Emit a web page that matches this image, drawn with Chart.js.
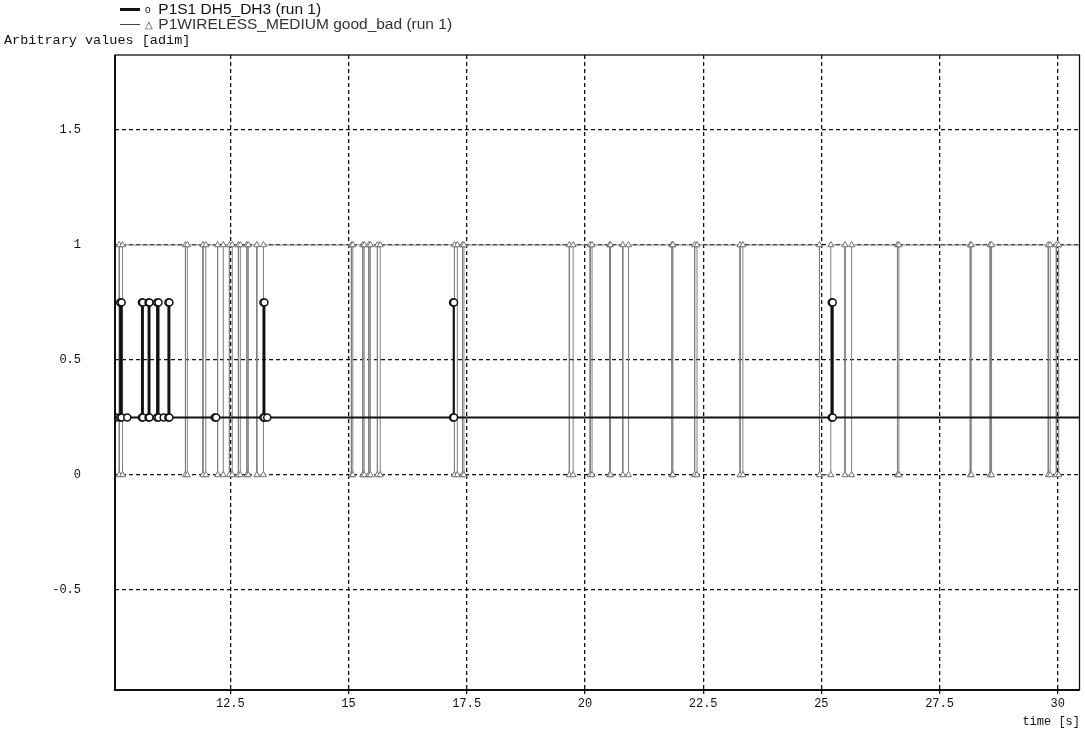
<!DOCTYPE html>
<html>
<head>
<meta charset="utf-8">
<script src="https://cdn.jsdelivr.net/npm/chart.js@4.4.1/dist/chart.umd.min.js"></script>
<style>
    body { margin: 0; background: #fff; }
    #wrap { position: relative; width: 1085px; height: 733px; }
    #chart { position: absolute; left: 0; top: 0; }
    .legend { position: absolute; left: 120px; font-family: "Liberation Sans", Arial, sans-serif; font-size: 15.5px; color: #111; line-height: 14px; white-space: nowrap; }
    .legend .bar { display: inline-block; width: 20px; vertical-align: middle; margin-right: 5px; }
    .legend .mk { display: inline-block; width: 9px; font-size: 10px; vertical-align: middle; }
    .mono { position: absolute; font-family: "Liberation Mono", "DejaVu Sans Mono", monospace; font-size: 13.5px; color: #111; white-space: nowrap; }
</style>
</head>
<body>
<div id="wrap">
    <canvas id="chart" width="1085" height="733"></canvas>
    <div class="legend" style="top:2px"><span class="bar" style="border-top:3px solid #111"></span><span class="mk">o</span> P1S1 DH5_DH3 (run 1)</div>
    <div class="legend" style="top:17px; color:#333"><span class="bar" style="border-top:1px solid #444"></span><span class="mk">&#9651;</span> P1WIRELESS_MEDIUM good_bad (run 1)</div>
    <div class="mono" style="left:4px; top:33px">Arbitrary values [adim]</div>
    <div class="mono" style="right:5px; top:715px; font-size:12px">time [s]</div>
</div>
<script>
// tick labels
const xTicks = [12.5, 15, 17.5, 20, 22.5, 25, 27.5, 30];
const yTicks = [-0.5, 0, 0.5, 1, 1.5];

// P1S1 DH5_DH3: sits at 0.25, short jumps to 0.75
const dh5Base = [10.0, 10.08, 10.32, 11.09, 12.17, 12.2, 13.28, 30.6];
const dh5Up = [10.17, 10.63, 10.77, 10.95, 11.19, 13.2, 17.21, 25.22];
const dh5Down = [10.2, 10.65, 10.79, 10.98, 11.21, 13.22, 17.23, 25.24];

// P1WIRELESS_MEDIUM good_bad: sits at 1, short drops to 0
const wirelessStart = 10.0;
const wirelessEnd = 30.6;
const wirelessDown = [10.15, 11.55, 11.92, 12.23, 12.48, 12.67, 12.85, 13.06, 15.06, 15.3, 15.43, 15.61, 17.24, 17.41,
    19.67, 20.11, 20.52, 20.8, 21.84, 22.32, 23.28, 24.96, 25.5, 26.61, 28.15, 28.57, 29.8, 29.97];
const wirelessUp = [10.22, 11.59, 11.98, 12.35, 12.54, 12.71, 12.88, 13.2, 15.09, 15.33, 15.46, 15.67, 17.3, 17.44,
    19.75, 20.15, 20.54, 20.92, 21.86, 22.37, 23.34, 25.2, 25.64, 26.64, 28.17, 28.6, 29.84, 30.02];

// build step points in time order
function pulses(base, lo, hi, starts, ends) {
    const groups = base.map(t => ({ t: t, pts: [{ x: t, y: lo }] }));
    starts.forEach((t, i) => {
        groups.push({ t: t, pts: [{ x: t, y: lo }, { x: t, y: hi }, { x: ends[i], y: hi }, { x: ends[i], y: lo }] });
    });
    groups.sort((a, b) => a.t - b.t);
    return groups.flatMap(g => g.pts);
}

const dh5Points = pulses(dh5Base, 0.25, 0.75, dh5Up, dh5Down);
const wirelessPoints = pulses([wirelessStart, wirelessEnd], 1, 0, wirelessDown, wirelessUp);

// frame around the plot area
const frame = {
    id: 'frame',
    afterDraw(chart) {
        const { ctx, chartArea: a } = chart;
        ctx.save();
        ctx.strokeStyle = '#111';
        ctx.lineWidth = 1.3;
        ctx.strokeRect(a.left, a.top, a.right - a.left, a.bottom - a.top);
        ctx.lineWidth = 2;
        ctx.beginPath();
        ctx.moveTo(a.left, a.top);
        ctx.lineTo(a.left, a.bottom);
        ctx.lineTo(a.right, a.bottom);
        ctx.stroke();
        ctx.restore();
    }
};

const grid = {
    color: '#111',
    lineWidth: 1.3,
    drawTicks: false
};

new Chart(document.querySelector('#chart'), {
    type: 'line',
    data: {
        datasets: [
            {
                label: 'P1S1 DH5_DH3 (run 1)',
                data: dh5Points,
                borderColor: '#111',
                borderWidth: 2,
                pointStyle: 'circle',
                pointRadius: 3.5,
                pointBorderWidth: 1.5,
                pointBorderColor: '#111',
                pointBackgroundColor: '#fff'
            },
            {
                label: 'P1WIRELESS_MEDIUM good_bad (run 1)',
                data: wirelessPoints,
                borderColor: '#808080',
                borderWidth: 1,
                pointStyle: 'triangle',
                pointRadius: 3.5,
                pointBorderWidth: 1,
                pointBorderColor: '#707070',
                pointBackgroundColor: '#fff'
            }
        ]
    },
    options: {
        responsive: false,
        animation: false,
        events: [],
        layout: { padding: { top: 55, right: 2, left: 0, bottom: 0 } },
        plugins: { legend: { display: false }, tooltip: { enabled: false } },
        scales: {
            x: {
                type: 'linear',
                min: 10.06,
                max: 30.46,
                border: { display: false, dash: [4, 3] },
                grid: Object.assign({}, grid, { drawTicks: true, tickLength: 7, tickBorderDash: [4, 3], tickColor: '#111' }),
                afterBuildTicks: s => { s.ticks = xTicks.map(v => ({ value: v })); },
                afterFit: s => { s.height = 43; },
                ticks: {
                    maxRotation: 0,
                    autoSkip: false,
                    padding: 0,
                    color: '#111',
                    font: { family: 'Liberation Mono', size: 12 },
                    callback: v => String(v)
                }
            },
            y: {
                min: -0.935,
                max: 1.826,
                border: { display: false, dash: [4, 3] },
                grid: grid,
                afterBuildTicks: s => { s.ticks = yTicks.map(v => ({ value: v })); },
                afterFit: s => { s.width = 115; },
                ticks: {
                    padding: 34,
                    color: '#111',
                    font: { family: 'Liberation Mono', size: 12 },
                    callback: v => String(v)
                }
            }
        }
    },
    plugins: [frame]
});
</script>
</body>
</html>
